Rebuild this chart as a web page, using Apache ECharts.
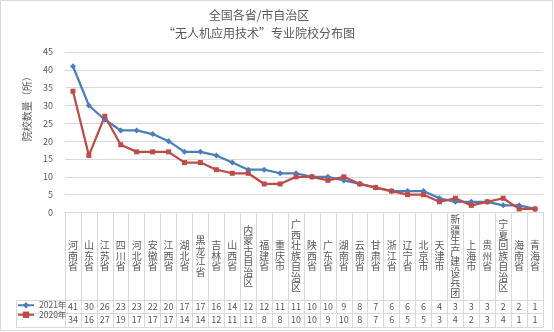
<!DOCTYPE html>
<html><head><meta charset="utf-8">
<script src="https://cdn.jsdelivr.net/npm/echarts@6/dist/echarts.min.js"></script>
<style>html,body{margin:0;padding:0;background:#fff}#c{width:554px;height:332px}</style>
</head><body><div id="c"></div>
<script>
var categories = ['河南省','山东省','江苏省','四川省','河北省','安徽省','江西省','湖北省','黑龙江省','吉林省','山西省','内蒙古自治区','福建省','重庆市','广西壮族自治区','陕西省','广东省','湖南省','云南省','甘肃省','浙江省','辽宁省','北京市','天津市','新疆生产建设兵团','上海市','贵州省','宁夏回族自治区','海南省','青海省'];
var values2021 = [41,30,26,23,23,22,20,17,17,16,14,12,12,11,11,10,10,9,8,7,6,6,6,4,3,3,3,2,2,1];
var values2020 = [34,16,27,19,17,17,17,14,14,12,11,11,8,8,10,10,9,10,8,7,6,5,5,3,4,2,3,4,1,1];
var seriesNames = ['2021年','2020年'];
var yTicks = {min:0, max:45, interval:5};

var FONT = '"Noto Sans CJK SC", "Noto Sans", sans-serif';
var TXT = '#595959';
var LINE = '#d9d9d9';
var idx = categories.map(function(_, i){ return String(i); });

function rowAxis(vals, offset, margin){
  return {
    type:'category', gridIndex:0, position:'bottom', offset:offset,
    data: idx, boundaryGap:true,
    axisLine:{show:true, lineStyle:{color:LINE, width:1}},
    axisTick:{show:false},
    axisLabel:{show: !!vals, interval:0, rotate:0, margin:margin, verticalAlign:'middle',
      fontSize:9, color:TXT, fontFamily:FONT, hideOverlap:false,
      formatter:function(v, i){ return vals ? String(vals[i]) : ''; }},
    splitLine:{show:false}
  };
}

var chart = echarts.init(document.getElementById('c'), null, {renderer:'canvas'});
chart.setOption({
  animation:false,
  backgroundColor:'#fff',
  title:{
    text:'全国各省/市自治区\n“无人机应用技术”专业院校分布图',
    left:259, top:6, padding:0, textAlign:'center',
    textStyle:{fontSize:12, fontWeight:'normal', color:TXT, lineHeight:18, fontFamily:FONT}
  },
  legend:{
    orient:'vertical', left:17, top:301, padding:0, itemGap:1, itemWidth:16, itemHeight:8,
    textStyle:{fontSize:8.5, color:TXT, fontFamily:FONT},
    data: seriesNames
  },
  grid:{left:65, right:11, top:52, bottom:119.5, containLabel:false},
  xAxis:[
    {
      type:'category', data: categories, boundaryGap:true,
      axisLine:{show:true, lineStyle:{color:LINE, width:1}},
      axisTick:{show:true, interval:0, length:114.5, lineStyle:{color:LINE, width:1}},
      axisLabel:{interval:0, rotate:0, hideOverlap:false, margin:43.5, verticalAlign:'middle', align:'center',
        fontSize:10, lineHeight:10.5, color:TXT, fontFamily:FONT,
        formatter:function(v){ return v.split('').join('\n'); }},
      splitLine:{show:false}
    },
    rowAxis(values2021, 87.5, 7),
    rowAxis(values2020, 100.5, 7),
    rowAxis(null, 114.5, 7)
  ],
  yAxis:{
    type:'value', min:yTicks.min, max:yTicks.max, interval:yTicks.interval,
    name:'院校数量（所）', nameLocation:'middle', nameRotate:90, nameGap:30,
    nameTextStyle:{fontSize:10, color:TXT, fontFamily:FONT, padding:[0,0,0,52]},
    axisLine:{show:false}, axisTick:{show:false},
    axisLabel:{fontSize:9, color:TXT, margin:12, fontFamily:FONT},
    splitLine:{lineStyle:{color:LINE, width:1}}
  },
  series:[
    {name:seriesNames[0], type:'line', data:values2021, xAxisIndex:0,
      symbol:'diamond', symbolSize:6, itemStyle:{color:'#4A7EBB'},
      lineStyle:{width:2.25, color:'#4A7EBB'}},
    {name:seriesNames[1], type:'line', data:values2020, xAxisIndex:0,
      symbol:'rect', symbolSize:5, itemStyle:{color:'#BE4B48'},
      lineStyle:{width:2.25, color:'#BE4B48'}}
  ],
  graphic:[
    {type:'rect', shape:{x:0.5, y:0.5, width:552, height:330}, style:{fill:null, stroke:LINE, lineWidth:1}, silent:true},
    {type:'line', shape:{x1:16.5, y1:300, x2:16.5, y2:327.5}, style:{stroke:LINE, lineWidth:1}, silent:true},
    {type:'line', shape:{x1:16, y1:300.5, x2:65, y2:300.5}, style:{stroke:LINE, lineWidth:1}, silent:true},
    {type:'line', shape:{x1:16, y1:313.5, x2:65, y2:313.5}, style:{stroke:LINE, lineWidth:1}, silent:true},
    {type:'line', shape:{x1:16, y1:327.5, x2:65, y2:327.5}, style:{stroke:LINE, lineWidth:1}, silent:true}
  ]
});
</script></body></html>
